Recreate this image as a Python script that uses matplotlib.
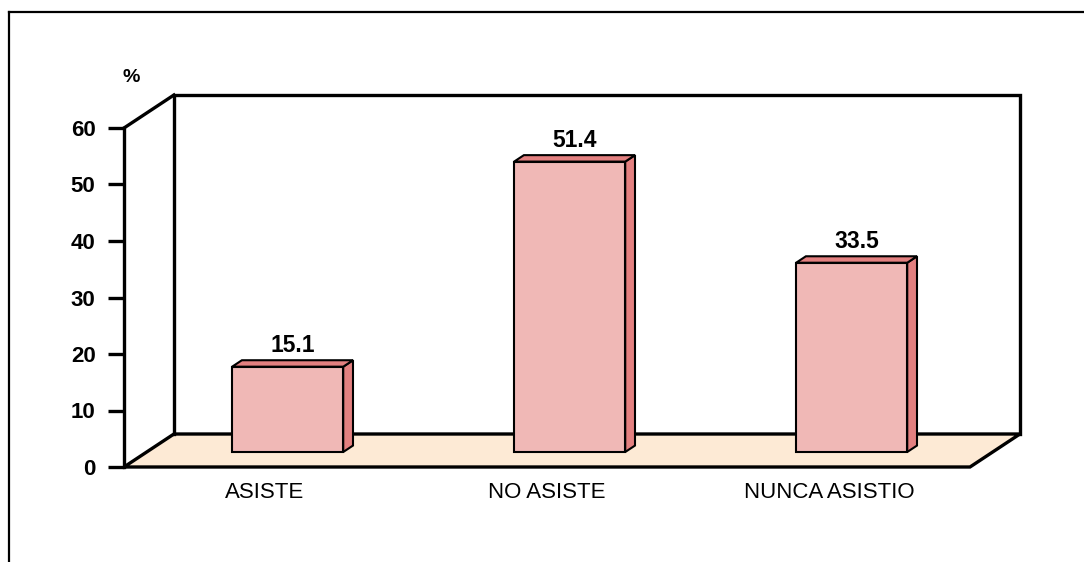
import numpy as np
import matplotlib.pyplot as plt
from matplotlib.patches import Polygon
from matplotlib.lines import Line2D

plt.rcParams['font.family'] = ['Liberation Sans', 'DejaVu Sans']

# data
categories = ['ASISTE', 'NO ASISTE', 'NUNCA ASISTIO']
values = [15.1, 51.4, 33.5]
yticks = [0, 10, 20, 30, 40, 50, 60]

# look of the fake 3d box
front_col = '#F0B8B6'
side_col = '#E38080'
floor_col = '#FDEAD5'
dx, dy = 0.177, 5.84      # depth of the box in data units
f0, f1 = 0.454, 0.65      # bars sit between these depth fractions
bw = 0.394

fig = plt.figure(figsize=(10.84, 5.62), dpi=100)
ax = fig.add_axes([124/1084, (562-467)/562, 846/1084, 339/562])
ax.set_xlim(-0.5, 2.5)
ax.set_ylim(0, 60)
ax.patch.set_visible(False)

# outer frame
fig.add_artist(Line2D([9/1084, 9/1084], [0, 1-12/562], color='black', lw=1.6))
fig.add_artist(Line2D([9/1084, 1], [1-12/562, 1-12/562], color='black', lw=1.6))

lw = 2.4
x0, x1 = -0.5, 2.5
# floor
floor = Polygon([(x0, 0), (x1, 0), (x1+dx, dy), (x0+dx, dy)], closed=True,
                facecolor=floor_col, edgecolor='black', lw=lw, clip_on=False, zorder=1)
ax.add_patch(floor)
# back wall
ax.plot([x0+dx, x0+dx, x1+dx, x1+dx], [dy, 60+dy, 60+dy, dy], color='black',
        lw=lw, clip_on=False, zorder=1, solid_joinstyle='miter')
# side wall diagonal
ax.plot([x0, x0+dx], [60, 60+dy], color='black', lw=lw, clip_on=False, zorder=1)

# bars
xs = np.arange(len(categories)) + f0*dx
bars = ax.bar(xs, values, width=bw, bottom=f0*dy, color=front_col,
              edgecolor='black', lw=1.5, zorder=3)
ddx = (f1-f0)*dx
ddy = (f1-f0)*dy
for b, v in zip(bars, values):
    xl = b.get_x()
    xr = xl + b.get_width()
    yb = b.get_y()
    yt = yb + b.get_height()
    side = Polygon([(xr, yb), (xr+ddx, yb+ddy), (xr+ddx, yt+ddy), (xr, yt)],
                   closed=True, facecolor=side_col, edgecolor='black', lw=1.5, zorder=2)
    top = Polygon([(xl, yt), (xl+ddx, yt+ddy), (xr+ddx, yt+ddy), (xr, yt)],
                  closed=True, facecolor=side_col, edgecolor='black', lw=1.5, zorder=2)
    ax.add_patch(side)
    ax.add_patch(top)
    ax.text((xl+xr)/2 + ddx/2, yt+ddy+0.5, str(v), ha='center', va='bottom',
            fontsize=16.5, fontweight='bold', zorder=4)

# axes
for s in ['top', 'right', 'bottom']:
    ax.spines[s].set_visible(False)
ax.spines['left'].set_linewidth(lw)
ax.spines['left'].set_zorder(5)
ax.set_yticks(yticks)
ax.set_yticklabels([str(t) for t in yticks], fontsize=16, fontweight='bold')
ax.tick_params(axis='y', length=11.5, width=lw, pad=9)
ax.set_xticks(range(len(categories)))
ax.set_xticklabels(categories, fontsize=16)
ax.tick_params(axis='x', length=0, pad=11)

fig.text(131/1084, 1-77/562, '%', ha='center', va='center', fontsize=14, fontweight='bold')

fig.savefig('out.png', dpi=100)
